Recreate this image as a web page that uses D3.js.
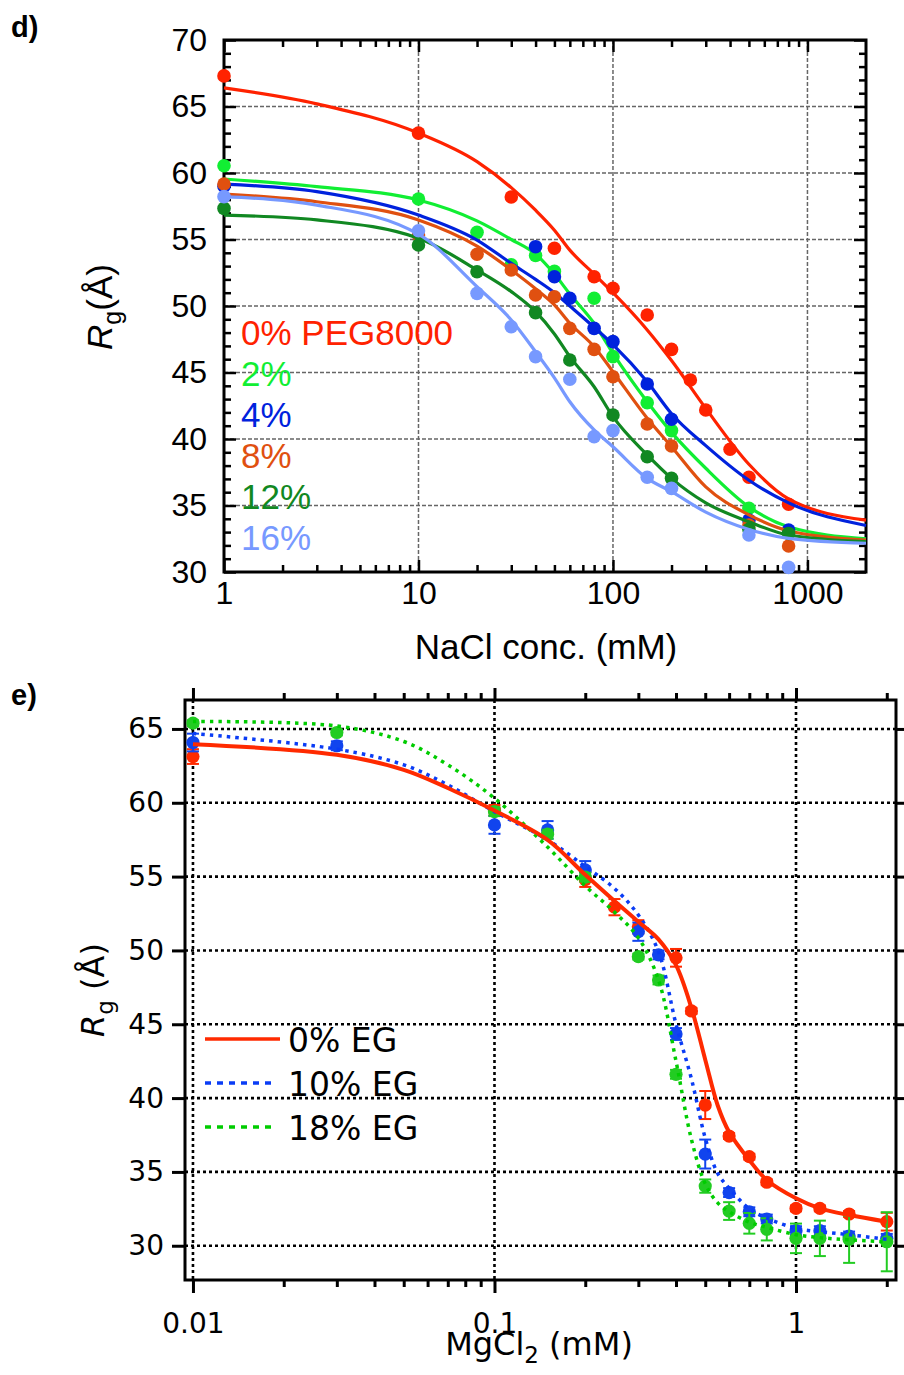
<!DOCTYPE html>
<html>
<head>
<meta charset="utf-8">
<script src="https://cdn.jsdelivr.net/npm/d3@7"></script>
<style>
  body { margin: 0; background: #fff; }
  svg { display: block; }
</style>
</head>
<body>
<svg id="fig" width="904" height="1375"></svg>
<script>
// ---------------- Panel d: Rg vs NaCl at different PEG8000 concentrations ----------------
const peg0X  = [1, 10, 30, 50, 80, 100, 150, 200, 250, 300, 400, 500, 800];
const peg0Rg = [67.3, 63.0, 58.2, 54.34, 52.2, 51.33, 49.32, 46.74, 44.44, 42.18, 39.23, 37.12, 35.09];
const peg2X  = [1, 10, 20, 30, 40, 50, 80, 100, 150, 200, 500, 800];
const peg2Rg = [60.55, 58.05, 55.54, 53.1, 53.8, 52.6, 50.58, 46.19, 42.73, 40.63, 34.79, 33.0];
const peg4X  = [1, 40, 50, 60, 80, 100, 150, 200, 500, 800];
const peg4Rg = [59.0, 54.46, 52.2, 50.58, 48.32, 47.32, 44.14, 41.48, 33.9, 33.16];
const peg8X  = [1, 10, 20, 30, 40, 50, 60, 80, 100, 150, 200, 500, 800];
const peg8Rg = [59.17, 55.34, 53.89, 52.71, 50.83, 50.7, 48.32, 46.74, 44.68, 41.13, 39.47, 33.53, 31.95];
const peg12X  = [1, 10, 20, 40, 60, 100, 150, 200, 500, 800];
const peg12Rg = [57.34, 54.59, 52.58, 49.5, 45.94, 41.8, 38.67, 37.04, 33.21, 32.9];
const peg16X  = [1, 10, 20, 30, 40, 60, 80, 100, 150, 200, 500, 800];
const peg16Rg = [58.22, 55.66, 50.95, 48.44, 46.19, 44.49, 40.18, 40.63, 37.12, 36.29, 32.78, 30.35];

// fitted curves, sampled on a common concentration grid
const pegFitX = [1, 3, 10, 20, 30, 40, 50, 60, 80, 100, 150, 200, 300, 500, 800, 2000];
const pegFit0  = [66.4, 65.2, 63.0, 60.85, 58.9, 57.2, 55.7, 54.2, 52.4, 51.0, 48.2, 45.9, 42.3, 38.1, 35.5, 33.9];
const pegFit2  = [59.55, 58.97, 57.97, 56.4, 55.0, 53.9, 52.4, 50.9, 48.7, 46.44, 42.8, 40.5, 37.8, 34.9, 33.4, 32.5];
const pegFit4  = [59.17, 58.6, 56.84, 54.96, 53.2, 52.0, 51.0, 50.0, 48.4, 47.1, 44.3, 41.9, 39.5, 36.9, 35.2, 33.5];
const pegFit8  = [58.42, 57.84, 56.47, 54.5, 52.71, 51.3, 50.08, 48.7, 46.94, 45.06, 41.56, 39.42, 36.4, 34.3, 33.1, 32.4];
const pegFit12 = [56.84, 56.47, 55.09, 52.71, 51.08, 49.57, 47.9, 46.19, 43.93, 41.68, 38.8, 37.04, 35.2, 33.78, 32.78, 32.28];
const pegFit16 = [58.22, 57.59, 55.4, 51.45, 48.95, 46.56, 44.6, 42.8, 40.68, 39.42, 37.04, 36.04, 34.5, 33.2, 32.53, 32.16];

const pegLabels = ["0% PEG8000", "2%", "4%", "8%", "12%", "16%"];
const pegColors = ["#ff2200", "#11ee33", "#0022dd", "#e05010", "#118822", "#7799ff"];

// axis ticks of panel d
const naclMajor = [1, 10, 100, 1000];
const naclMinor = [2, 3, 4, 5, 6, 7, 8, 9, 20, 30, 40, 50, 60, 70, 80, 90, 200, 300, 400, 500, 600, 700, 800, 900];
const rgMajorD = [30, 35, 40, 45, 50, 55, 60, 65, 70];

// ---------------- Panel e: Rg vs MgCl2 at different EG concentrations ----------------
const eg0X   = [0.01, 0.1, 0.2, 0.25, 0.3, 0.4, 0.45, 0.5, 0.6, 0.7, 0.8, 1.0, 1.2, 1.5, 2.0];
const eg0Rg  = [63.13, 59.5, 54.8, 52.93, 51.6, 49.5, 45.9, 39.53, 37.43, 36.03, 34.3, 32.53, 32.53, 32.15, 31.63];
const eg0Err = [0.5, 0.35, 0.5, 0.55, 0.45, 0.6, 0.2, 0.95, 0.2, 0.2, 0.2, 0.2, 0.2, 0.2, 0.6];
const eg10X   = [0.01, 0.03, 0.1, 0.15, 0.2, 0.3, 0.35, 0.4, 0.5, 0.6, 0.7, 0.8, 1.0, 1.2, 1.5, 2.0];
const eg10Rg  = [64.08, 63.86, 58.5, 58.16, 55.45, 51.27, 49.7, 44.34, 36.21, 33.6, 32.3, 31.81, 31.02, 31.02, 30.66, 30.5];
const eg10Err = [0.6, 0.3, 0.6, 0.6, 0.6, 0.62, 0.3, 0.4, 0.98, 0.3, 0.3, 0.3, 0.3, 0.3, 0.3, 0.3];
const eg18X   = [0.01, 0.03, 0.1, 0.15, 0.2, 0.3, 0.35, 0.4, 0.5, 0.6, 0.7, 0.8, 1.0, 1.2, 1.5, 2.0];
const eg18Rg  = [65.39, 64.76, 59.4, 57.87, 54.96, 49.58, 48.0, 41.61, 34.04, 32.35, 31.52, 31.11, 30.5, 30.5, 30.44, 30.27];
const eg18Err = [0.2, 0.2, 0.3, 0.3, 0.3, 0.2, 0.3, 0.3, 0.45, 0.6, 0.7, 0.75, 1.0, 1.2, 1.6, 2.0];

const egFitX  = [0.01, 0.03, 0.05, 0.07, 0.1, 0.15, 0.2, 0.25, 0.3, 0.35, 0.4, 0.45, 0.5, 0.55, 0.6, 0.7, 0.8, 1.0, 1.2, 1.5, 2.0];
const egFit0  = [63.97, 63.25, 62.23, 61.0, 59.47, 57.49, 55.12, 53.35, 51.95, 50.75, 49.0, 46.1, 42.6, 39.5, 37.7, 35.8, 34.45, 33.21, 32.53, 32.08, 31.63];
const egFit10 = [64.69, 63.63, 62.57, 61.21, 59.4, 57.49, 55.68, 54.2, 52.4, 49.9, 45.0, 41.3, 37.3, 34.9, 33.9, 32.5, 31.87, 31.18, 30.95, 30.75, 30.43];
const egFit18 = [65.5, 65.2, 64.15, 62.57, 60.31, 57.0, 54.37, 52.6, 50.85, 47.99, 42.5, 37.2, 34.2, 32.9, 32.3, 31.6, 31.25, 30.75, 30.55, 30.4, 30.27];

const egLabels = ["0% EG", "10% EG", "18% EG"];
const egColors = ["#ff2a00", "#1144ee", "#22cc22"];
const egLineColors = ["#ff2a00", "#0a3cf5", "#00cc00"];

const mgMajor = [0.01, 0.1, 1];
const mgMinor = [0.02, 0.03, 0.04, 0.05, 0.06, 0.07, 0.08, 0.09, 0.2, 0.3, 0.4, 0.5, 0.6, 0.7, 0.8, 0.9, 2];
const rgMajorE = [30, 35, 40, 45, 50, 55, 60, 65];

// ------------------------------------------------------------------------------------
const svg = d3.select("#fig");
const zip = (xs, ys) => xs.map((x, i) => [x, ys[i]]);

function styleAxis(g, family, size, width) {
  g.select(".domain").remove();
  g.attr("font-family", null).attr("font-size", null);
  g.selectAll(".tick line").attr("stroke", "#000").attr("stroke-width", width);
  g.selectAll(".tick text").attr("font-family", family).attr("font-size", size).attr("fill", "#000");
}

// ===================== panel d =====================
(function () {
  const FONT = "'Liberation Sans', Arial, Helvetica, sans-serif";
  const x = d3.scaleLog().domain([1, 2000]).range([224, 866]);
  const y = d3.scaleLinear().domain([30, 70]).range([572, 40]);
  const [x0, x1] = x.range();
  const [yb, yt] = y.range();
  const g = svg.append("g");

  // dashed grey grid
  g.append("g").selectAll("line").data(rgMajorD.filter(v => v > 30 && v < 70)).join("line")
    .attr("x1", x0).attr("x2", x1).attr("y1", d => y(d)).attr("y2", d => y(d))
    .attr("stroke", "#666").attr("stroke-width", 1.5).attr("stroke-dasharray", "4,2");
  g.append("g").selectAll("line").data([10, 100, 1000]).join("line")
    .attr("x1", d => x(d)).attr("x2", d => x(d)).attr("y1", yt).attr("y2", yb)
    .attr("stroke", "#666").attr("stroke-width", 1.5).attr("stroke-dasharray", "4,2");

  // axes, ticks on all four sides pointing inward
  const bottom = g.append("g").attr("transform", `translate(0,${yb})`)
    .call(d3.axisBottom(x).tickValues(naclMajor).tickSizeInner(-12).tickSizeOuter(0).tickPadding(9).tickFormat(d3.format("d")));
  styleAxis(bottom, FONT, 32, 2.5);
  styleAxis(g.append("g").attr("transform", `translate(0,${yb})`)
    .call(d3.axisBottom(x).tickValues(naclMinor).tickSizeInner(-7).tickSizeOuter(0).tickFormat("")), FONT, 32, 2.5);
  styleAxis(g.append("g").attr("transform", `translate(0,${yt})`)
    .call(d3.axisTop(x).tickValues(naclMajor).tickSizeInner(-12).tickSizeOuter(0).tickFormat("")), FONT, 32, 2.5);
  styleAxis(g.append("g").attr("transform", `translate(0,${yt})`)
    .call(d3.axisTop(x).tickValues(naclMinor).tickSizeInner(-7).tickSizeOuter(0).tickFormat("")), FONT, 32, 2.5);

  const rgMinor = d3.range(31, 70).filter(v => v % 5 !== 0);
  const left = g.append("g").attr("transform", `translate(${x0},0)`)
    .call(d3.axisLeft(y).tickValues(rgMajorD).tickSizeInner(-12).tickSizeOuter(0).tickPadding(17).tickFormat(d3.format("d")));
  styleAxis(left, FONT, 32, 2.5);
  styleAxis(g.append("g").attr("transform", `translate(${x0},0)`)
    .call(d3.axisLeft(y).tickValues(rgMinor).tickSizeInner(-7).tickSizeOuter(0).tickFormat("")), FONT, 32, 2.5);
  styleAxis(g.append("g").attr("transform", `translate(${x1},0)`)
    .call(d3.axisRight(y).tickValues(rgMajorD).tickSizeInner(-12).tickSizeOuter(0).tickFormat("")), FONT, 32, 2.5);
  styleAxis(g.append("g").attr("transform", `translate(${x1},0)`)
    .call(d3.axisRight(y).tickValues(rgMinor).tickSizeInner(-7).tickSizeOuter(0).tickFormat("")), FONT, 32, 2.5);

  // frame
  g.append("rect").attr("x", x0).attr("y", yt).attr("width", x1 - x0).attr("height", yb - yt)
    .attr("fill", "none").attr("stroke", "#000").attr("stroke-width", 3);

  // curves + points
  const series = [
    { px: peg0X, py: peg0Rg, fit: pegFit0 },
    { px: peg2X, py: peg2Rg, fit: pegFit2 },
    { px: peg4X, py: peg4Rg, fit: pegFit4 },
    { px: peg8X, py: peg8Rg, fit: pegFit8 },
    { px: peg12X, py: peg12Rg, fit: pegFit12 },
    { px: peg16X, py: peg16Rg, fit: pegFit16 }
  ];
  const line = d3.line().x(d => x(d[0])).y(d => y(d[1])).curve(d3.curveMonotoneX);
  const plot = g.append("g");
  series.forEach((s, i) => {
    plot.append("path").datum(zip(pegFitX, s.fit)).attr("d", line)
      .attr("fill", "none").attr("stroke", pegColors[i]).attr("stroke-width", 3.2);
    plot.append("g").selectAll("circle").data(zip(s.px, s.py)).join("circle")
      .attr("cx", d => x(d[0])).attr("cy", d => y(d[1])).attr("r", 6.8).attr("fill", pegColors[i]);
  });

  // legend as coloured text
  g.append("g").selectAll("text").data(pegLabels).join("text")
    .attr("x", 241).attr("y", (d, i) => 345 + i * 41)
    .attr("font-family", FONT).attr("font-size", 35).attr("fill", (d, i) => pegColors[i])
    .text(d => d);

  // axis titles
  g.append("text").attr("x", 546).attr("y", 659).attr("text-anchor", "middle")
    .attr("font-family", FONT).attr("font-size", 35).text("NaCl conc. (mM)");
  const yl = g.append("text").attr("transform", "translate(112,307) rotate(-90)")
    .attr("text-anchor", "middle").attr("font-family", FONT).attr("font-size", 35);
  yl.append("tspan").attr("font-style", "italic").text("R");
  yl.append("tspan").attr("font-size", 25).attr("dy", 9).text("g");
  yl.append("tspan").attr("dy", -9).text("(Å)");

  g.append("text").attr("x", 11).attr("y", 37).attr("font-family", FONT)
    .attr("font-weight", "bold").attr("font-size", 29).text("d)");
})();

// ===================== panel e =====================
(function () {
  const FONT = "'DejaVu Sans', Verdana, sans-serif";
  const x = d3.scaleLog().domain([0.00941, 2.146]).range([185, 896]);
  const y = d3.scaleLinear().domain([27.68, 66.96]).range([1280, 700]);
  const [x0, x1] = x.range();
  const [yb, yt] = y.range();
  const g = svg.append("g");

  // dotted grid
  g.append("g").selectAll("line").data(rgMajorE).join("line")
    .attr("x1", x0).attr("x2", x1).attr("y1", d => y(d)).attr("y2", d => y(d))
    .attr("stroke", "#000").attr("stroke-width", 2.6).attr("stroke-dasharray", "3,3");
  g.append("g").selectAll("line").data(mgMajor).join("line")
    .attr("x1", d => x(d)).attr("x2", d => x(d)).attr("y1", yt).attr("y2", yb)
    .attr("stroke", "#000").attr("stroke-width", 2.6).attr("stroke-dasharray", "3,3");

  // outward ticks
  const fmt = d => (d >= 1 ? d3.format("d")(d) : String(d));
  const bottom = g.append("g").attr("transform", `translate(0,${yb})`)
    .call(d3.axisBottom(x).tickValues(mgMajor).tickSizeInner(13).tickSizeOuter(0).tickPadding(20).tickFormat(fmt));
  styleAxis(bottom, FONT, 28, 3);
  styleAxis(g.append("g").attr("transform", `translate(0,${yb})`)
    .call(d3.axisBottom(x).tickValues(mgMinor).tickSizeInner(7).tickSizeOuter(0).tickFormat("")), FONT, 28, 3);
  styleAxis(g.append("g").attr("transform", `translate(0,${yt})`)
    .call(d3.axisTop(x).tickValues(mgMajor).tickSizeInner(12).tickSizeOuter(0).tickFormat("")), FONT, 28, 3);
  styleAxis(g.append("g").attr("transform", `translate(0,${yt})`)
    .call(d3.axisTop(x).tickValues(mgMinor).tickSizeInner(7).tickSizeOuter(0).tickFormat("")), FONT, 28, 3);
  const left = g.append("g").attr("transform", `translate(${x0},0)`)
    .call(d3.axisLeft(y).tickValues(rgMajorE).tickSizeInner(13).tickSizeOuter(0).tickPadding(8).tickFormat(d3.format("d")));
  styleAxis(left, FONT, 28, 3);
  styleAxis(g.append("g").attr("transform", `translate(${x1},0)`)
    .call(d3.axisRight(y).tickValues(rgMajorE).tickSizeInner(8).tickSizeOuter(0).tickFormat("")), FONT, 28, 3);

  // frame
  g.append("rect").attr("x", x0).attr("y", yt).attr("width", x1 - x0).attr("height", yb - yt)
    .attr("fill", "none").attr("stroke", "#000").attr("stroke-width", 3);

  // data points with error bars
  const pts = [
    { px: eg0X, py: eg0Rg, err: eg0Err },
    { px: eg10X, py: eg10Rg, err: eg10Err },
    { px: eg18X, py: eg18Rg, err: eg18Err }
  ];
  pts.forEach((s, i) => {
    const rows = s.px.map((v, k) => ({ x: v, y: s.py[k], e: s.err[k] }));
    const sg = g.append("g").attr("stroke", egColors[i]).attr("stroke-width", 2);
    sg.selectAll("line.bar").data(rows).join("line").attr("class", "bar")
      .attr("x1", d => x(d.x)).attr("x2", d => x(d.x))
      .attr("y1", d => y(d.y - d.e)).attr("y2", d => y(d.y + d.e));
    [-1, 1].forEach(sgn => {
      sg.selectAll(`line.cap${sgn}`).data(rows).join("line").attr("class", `cap${sgn}`)
        .attr("x1", d => x(d.x) - 6).attr("x2", d => x(d.x) + 6)
        .attr("y1", d => y(d.y + sgn * d.e)).attr("y2", d => y(d.y + sgn * d.e));
    });
    g.append("g").selectAll("circle").data(rows).join("circle")
      .attr("cx", d => x(d.x)).attr("cy", d => y(d.y)).attr("r", 6.6).attr("fill", egColors[i]);
  });

  // fit curves: dotted ones first, solid on top
  const line = d3.line().x(d => x(d[0])).y(d => y(d[1])).curve(d3.curveCatmullRom.alpha(0.5));
  g.append("path").datum(zip(egFitX, egFit18)).attr("d", line).attr("fill", "none")
    .attr("stroke", egLineColors[2]).attr("stroke-width", 3.5).attr("stroke-dasharray", "3.5,5");
  g.append("path").datum(zip(egFitX, egFit10)).attr("d", line).attr("fill", "none")
    .attr("stroke", egLineColors[1]).attr("stroke-width", 3.5).attr("stroke-dasharray", "3.5,5");
  g.append("path").datum(zip(egFitX, egFit0)).attr("d", line).attr("fill", "none")
    .attr("stroke", egLineColors[0]).attr("stroke-width", 4);

  // legend
  const lg = g.append("g");
  egLabels.forEach((lab, i) => {
    const ly = 1039 + i * 44;
    lg.append("line").attr("x1", 205).attr("x2", i === 0 ? 280 : 272).attr("y1", ly).attr("y2", ly)
      .attr("stroke", egLineColors[i]).attr("stroke-width", 3.5)
      .attr("stroke-dasharray", i === 0 ? null : "6,6");
    lg.append("text").attr("x", 288).attr("y", ly + 13).attr("font-family", FONT)
      .attr("font-size", 33).attr("fill", "#000").text(lab);
  });

  // axis titles
  const xt = g.append("text").attr("x", 539).attr("y", 1355).attr("text-anchor", "middle")
    .attr("font-family", FONT).attr("font-size", 32);
  xt.append("tspan").text("MgCl");
  xt.append("tspan").attr("font-size", 23).attr("dy", 8).text("2");
  xt.append("tspan").attr("dy", -8).text(" (mM)");

  const yl = g.append("text").attr("transform", "translate(104,990) rotate(-90)")
    .attr("text-anchor", "middle").attr("font-family", FONT).attr("font-size", 32);
  yl.append("tspan").attr("font-style", "italic").text("R");
  yl.append("tspan").attr("font-size", 23).attr("dy", 9).text("g");
  yl.append("tspan").attr("dy", -9).text(" (Å)");

  g.append("text").attr("x", 11).attr("y", 705).attr("font-family", "'Liberation Sans', Arial, sans-serif")
    .attr("font-weight", "bold").attr("font-size", 29).text("e)");
})();
</script>
</body>
</html>
